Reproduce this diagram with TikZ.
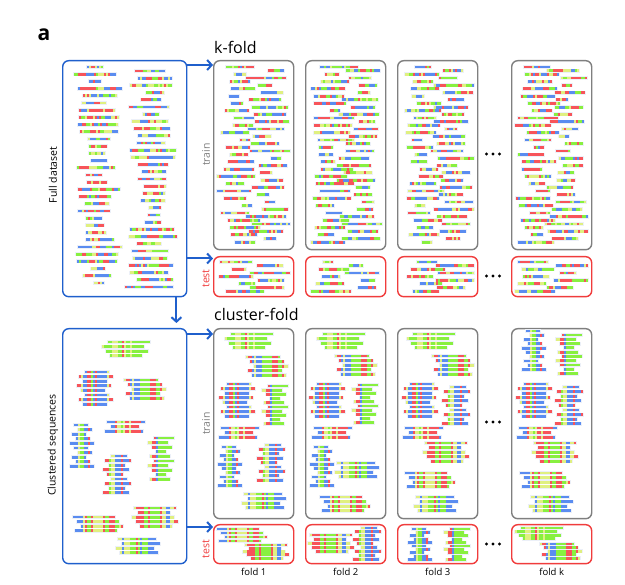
\documentclass[tikz,border=0pt]{standalone}
\usepackage{fontspec}
\setmainfont{Open Sans}
\usetikzlibrary{arrows.meta,calc}
\definecolor{sR}{HTML}{F7545A}
\definecolor{sB}{HTML}{5A8CF0}
\definecolor{sG}{HTML}{88F040}
\definecolor{sY}{HTML}{E0F080}
\definecolor{halo}{HTML}{ECF0F8}
\colorlet{sc1}{sR}\colorlet{sc2}{sR}\colorlet{sc9}{sR}
\colorlet{sc3}{sB}\colorlet{sc4}{sB}
\colorlet{sc5}{sG}\colorlet{sc6}{sG}
\colorlet{sc7}{sY}\colorlet{sc8}{sY}
\definecolor{bblue}{HTML}{1F5FCC}
\definecolor{bgray}{HTML}{7F7F7F}
\definecolor{bred}{HTML}{F03C3C}
\newcount\rbleft \newcount\rbpos \newcount\rba \newcount\rbb
% longest run allowed for each colour code
\newcommand\setrunmax{\edef\rbmax{\ifcase\numexpr\rbc\relax 0\or 3\or 2\or 4\or 3\or 2\or 3\or 2\or 1\or 1\else 1\fi}}
% random sequence bar: left x, y, number of residues
\newcommand\rbar[3]{%
  \pgfmathsetmacro\rbx{#1}%
  \pgfmathsetmacro\rby{#2}%
  \fill[halo] ({\rbx-0.8},{\rby-2}) rectangle ({\rbx+#3*2+0.8},{\rby+2});%
  \rbleft=#3\relax
  \loop
    \pgfmathrandominteger{\rbc}{1}{9}%
    \setrunmax
    \pgfmathrandominteger{\rblen}{1}{\rbmax}%
    \ifnum\rblen>\rbleft \edef\rblen{\the\rbleft}\fi
    \fill[sc\rbc] ({\rbx},{\rby-1.4}) rectangle ++({\rblen*2},2.8);%
    \pgfmathsetmacro\rbx{\rbx+\rblen*2}%
    \advance\rbleft by -\rblen\relax
  \ifnum\rbleft>0 \repeat
}
% cluster bar: x0, y, seed, nres, start, end
\newcommand\cbar[6]{%
  \pgfmathsetmacro\cbx{#1}%
  \pgfmathsetmacro\cby{#2}%
  \fill[halo] ({\cbx+#5*2-0.8},{\cby-2}) rectangle ({\cbx+#6*2+0.8},{\cby+2});%
  \pgfmathsetseed{#3}%
  \rbpos=0\relax
  \loop
    \pgfmathrandominteger{\rbc}{1}{9}%
    \setrunmax
    \pgfmathrandominteger{\rblen}{1}{\rbmax}%
    \rba=\rbpos\relax \ifnum\rba<#5\relax \rba=#5\relax\fi
    \rbb=\rbpos\relax \advance\rbb by \rblen\relax
    \ifnum\rbb>#6\relax \rbb=#6\relax\fi
    \ifnum\rba<\rbb
      \fill[sc\rbc] ({\cbx+\the\rba*2},{\cby-1.4}) rectangle ({\cbx+\the\rbb*2},{\cby+1.4});%
    \fi
    \advance\rbpos by \rblen\relax
  \ifnum\rbpos<#4\relax \repeat
}
% cluster: x, y, seed, nres, rows, spacing
\newcommand\drawcluster[6]{%
  \foreach \ci in {1,...,#5}{%
    \pgfmathtruncatemacro\clS{mod(\ci*7+#3,5)}%
    \pgfmathtruncatemacro\clE{#4-mod(\ci*3+2*#3,5)}%
    \pgfmathsetmacro\clY{#2+(\ci-1)*#6}%
    \cbar{#1}{\clY}{#3}{#4}{\clS}{\clE}%
  }%
}
% k-fold box content: box left x, first row y, rows, seed
\newcommand\kfoldbars[4]{%
  \pgfmathsetseed{#4}%
  \foreach \ki in {0,...,#3}{%
    \pgfmathrandominteger{\kn}{5}{20}%
    \pgfmathrandominteger{\kd}{-7}{7}%
    \pgfmathsetmacro\kc{#1+27+29*mod(\ki,2)+\kd}%
    \pgfmathsetmacro\kl{max(#1+4,min(#1+77-2*\kn,\kc-\kn))}%
    \pgfmathsetmacro\ky{#2+\ki*3.65}%
    \rbar{\kl}{\ky}{\kn}%
  }%
}
% named clusters: x, y, spacing
\newcommand\Ca[3]{\drawcluster{#1}{#2}{5101}{24}{4}{#3}}
\newcommand\Cb[3]{\drawcluster{#1}{#2}{7302}{18}{8}{#3}}
\newcommand\Cc[3]{\drawcluster{#1}{#2}{6103}{21}{5}{#3}}
\newcommand\Cd[3]{\drawcluster{#1}{#2}{3404}{21}{3}{#3}}
\newcommand\Ce[3]{\drawcluster{#1}{#2}{6605}{12}{10}{#3}}
\newcommand\Cf[3]{\drawcluster{#1}{#2}{2806}{13}{10}{#3}}
\newcommand\Cg[3]{\drawcluster{#1}{#2}{4707}{14}{9}{#3}}
\newcommand\Ch[3]{\drawcluster{#1}{#2}{7508}{25}{4}{#3}}
\newcommand\Ci[3]{\drawcluster{#1}{#2}{1909}{23}{5}{#3}}
\newcommand\Cj[3]{\drawcluster{#1}{#2}{6010}{24}{4}{#3}}
\tikzset{
  boxbase/.style={rounded corners=6pt, line width=1.4pt, inner sep=0pt, anchor=north west},
  bluebox/.style={boxbase, draw=bblue},
  graybox/.style={boxbase, draw=bgray},
  redbox/.style={boxbase, draw=bred},
  arr/.style={draw=bblue, line width=2pt, -{Straight Barb[length=4.5pt,width=10pt]}},
  title/.style={font=\fontsize{16}{19}\selectfont, anchor=base west, inner sep=0pt},
  side/.style={font=\fontsize{10.5}{12}\selectfont, rotate=90, inner sep=0pt},
  foldlbl/.style={font=\fontsize{9.5}{11}\selectfont, inner sep=0pt},
}
\begin{document}
\begin{tikzpicture}[x=1pt,y=-1pt]
\useasboundingbox (0,0) rectangle (625,585);
% panel letter and titles
\node[font=\bfseries\fontsize{21}{24}\selectfont, inner sep=0pt] (lettera) at (44,35) {a};
\node[title] (tkfold) at (214,54) {k-fold};
\node[title] (tcfold) at (214,321) {cluster-fold};
% left boxes
\node[bluebox, minimum width=124pt, minimum height=236pt] (full) at (62,60) {};
\node[bluebox, minimum width=124pt, minimum height=235pt] (clus) at (62,328) {};
\node[side] (lfull) at (53,175) {Full dataset};
\node[side] (lclus) at (53,445) {Clustered sequences};
% fold boxes
\foreach \i/\x in {1/213,2/305,3/397,4/511}{
  \node[graybox, minimum width=80pt, minimum height=189pt] (kt\i) at (\x,60) {};
  \node[redbox, minimum width=80pt, minimum height=40pt] (ke\i) at (\x,256) {};
  \node[graybox, minimum width=80pt, minimum height=190pt] (ct\i) at (\x,328) {};
  \node[redbox, minimum width=80pt, minimum height=39pt] (ce\i) at (\x,524) {};
}
\node[side, text=bgray] (ltr1) at (206,154.5) {train};
\node[side, text=bred] (lte1) at (206,278.5) {test};
\node[side, text=bgray] (ltr2) at (206,423.5) {train};
\node[side, text=bred] (lte2) at (206,549) {test};
\node[foldlbl] (f1) at ($(ce1.south)+(0,8)$) {fold 1};
\node[foldlbl] (f2) at ($(ce2.south)+(0,8)$) {fold 2};
\node[foldlbl] (f3) at ($(ce3.south)+(0,8)$) {fold 3};
\node[foldlbl] (f4) at ($(ce4.south)+(0,8)$) {fold k};
% dots
\foreach \yy in {154,276,422,544}{
  \foreach \dx in {-6.5,0,6.5}{\fill (493+\dx,\yy) circle (1.7);}
}
% arrows
\draw[arr] ($(full.east |- kt1.north)+(0,5)$) -- ($(kt1.north west)+(0,5)$);
\draw[arr] ($(full.east |- ke1.north)+(0,2.5)$) -- ($(ke1.north west)+(0,2.5)$);
\draw[arr] ($(full.south east)+(-11,0)$) -- ($(clus.north east)+(-11,-5)$);
\draw[arr] ($(clus.east |- ct1.north)+(0,6)$) -- ($(ct1.north west)+(0,6)$);
\draw[arr] ($(clus.east |- ce1.north)+(0,3)$) -- ($(ce1.north west)+(0,3)$);
% full dataset bars
\pgfmathsetseed{11}
\foreach \i in {0,...,30}{
  \pgfmathrandominteger{\n}{5}{22}
  \pgfmathrandominteger{\d}{-3}{3}
  \pgfmathsetmacro\fx{97+\d-\n}
  \pgfmathsetmacro\fy{67+\i*7.2}
  \rbar{\fx}{\fy}{\n}
}
\foreach \i in {0,...,30}{
  \pgfmathrandominteger{\n}{6}{24}
  \pgfmathrandominteger{\d}{-3}{3}
  \pgfmathsetmacro\fx{152+\d-\n}
  \pgfmathsetmacro\fy{71+\i*7.2}
  \rbar{\fx}{\fy}{\n}
}
% k-fold bars
\kfoldbars{213}{67}{48}{21}
\kfoldbars{213}{262}{8}{31}
\kfoldbars{305}{67}{48}{22}
\kfoldbars{305}{262}{8}{32}
\kfoldbars{397}{67}{48}{23}
\kfoldbars{397}{262}{8}{33}
\kfoldbars{511}{67}{48}{24}
\kfoldbars{511}{262}{8}{34}
% clustered sequences
\Ca{102}{342}{4.6}
\Cb{77}{372}{4.6}
\Cc{124}{380}{4.6}
\Cd{105}{422}{4.6}
\Ce{70}{425}{4.6}
\Cf{148}{438}{4.6}
\Cg{103}{456}{4.6}
\Ch{73}{517}{4.6}
\Ci{132}{508}{4.6}
\Cj{114}{539}{4.6}
% fold 1
\Ca{225}{334}{4.6}
\Cc{246}{357}{4.6}
\Cb{219}{384}{4.6}
\Cf{262}{386}{4.2}
\Cd{219}{428}{4.6}
\Ce{218}{447}{4.3}
\Cg{257}{445}{4.4}
\Cj{240}{494}{4.6}
\Ch{217}{529}{4.0}
\Ci{243}{545}{3.3}
% fold 2
\Ca{317}{334}{4.6}
\Cc{335}{356}{4.6}
\Cb{309}{384}{4.6}
\Cf{352}{385}{4.2}
\Cd{312}{428}{4.6}
\Ce{310}{447}{4.3}
\Cj{333}{463}{4.6}
\Ch{320}{497}{4.6}
\Cg{353}{528}{3.9}
\Ci{308}{535}{4.2}
% fold 3
\Ca{407}{334}{4.6}
\Cc{432}{356}{4.6}
\Cb{402}{384}{4.6}
\Cg{442}{387}{4.6}
\Cd{403}{428}{4.6}
\Ci{423}{443}{4.6}
\Ch{405}{473}{4.6}
\Cj{412}{497}{4.6}
\Ce{408}{529}{3.4}
\Cf{444}{529}{3.4}
% fold k
\Ce{522}{331}{4.3}
\Cf{556}{335}{4.3}
\Cb{516}{384}{4.6}
\Cg{555}{387}{4.6}
\Cd{517}{428}{4.6}
\Ci{532}{443}{4.6}
\Ch{520}{473}{4.6}
\Cj{527}{497}{4.6}
\Ca{515}{528}{3.6}
\Cc{540}{544}{3.6}
\end{tikzpicture}
\end{document}
